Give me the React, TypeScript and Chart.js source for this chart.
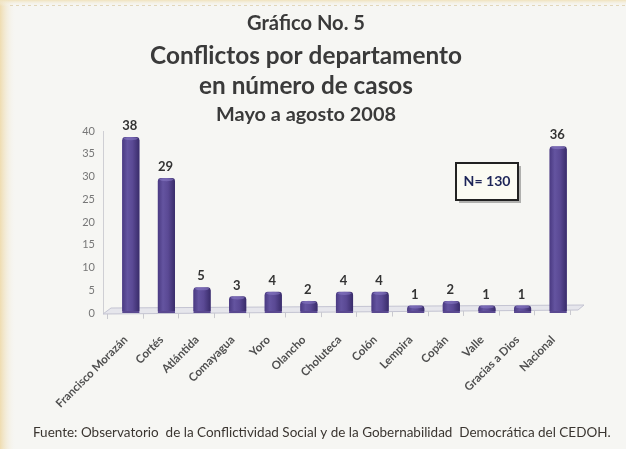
import React, { useEffect, useRef } from "react";
import { Chart, registerables } from "chart.js";

Chart.register(...registerables);

const categories = [
  "Francisco Morazán",
  "Cortés",
  "Atlántida",
  "Comayagua",
  "Yoro",
  "Olancho",
  "Choluteca",
  "Colón",
  "Lempira",
  "Copán",
  "Valle",
  "Gracias a Dios",
  "Nacional",
];
const cases = [38, 29, 5, 3, 4, 2, 4, 4, 1, 2, 1, 1, 36];
const yMin = 0;
const yMax = 40;
const yStep = 5;
const titleLines = [
  "Gráfico No. 5",
  "Conflictos por departamento",
  "en número de casos",
  "Mayo a agosto 2008",
];
const sampleNote = "N= 130";
const sourceNote =
  "Fuente: Observatorio  de la Conflictividad Social y de la Gobernabilidad  Democrática del CEDOH.";

const FONT = "Lato, 'Open Sans', sans-serif";

function drawFitted(
  ctx: CanvasRenderingContext2D,
  text: string,
  x: number,
  y: number,
  targetW: number,
  weight: string,
  color: string,
  align: CanvasTextAlign
) {
  ctx.font = `${weight} 20px ${FONT}`;
  const w = ctx.measureText(text).width;
  const size = (20 * targetW) / w;
  ctx.font = `${weight} ${size}px ${FONT}`;
  ctx.fillStyle = color;
  ctx.textAlign = align;
  ctx.textBaseline = "middle";
  ctx.fillText(text, x, y);
}

const decor = {
  id: "decor",
  beforeDraw(chart: any) {
    const { ctx, width, height } = chart;
    ctx.save();
    ctx.fillStyle = "#f6f6f3";
    ctx.fillRect(0, 0, width, height);
    const gl = ctx.createLinearGradient(0, 0, 16, 0);
    gl.addColorStop(0, "#efdcb0");
    gl.addColorStop(1, "rgba(246,246,243,0)");
    ctx.fillStyle = gl;
    ctx.fillRect(0, 0, 16, height);
    const gt = ctx.createLinearGradient(0, 0, 0, 6);
    gt.addColorStop(0, "#f0e2bc");
    gt.addColorStop(1, "rgba(246,246,243,0)");
    ctx.fillStyle = gt;
    ctx.fillRect(0, 0, width, 6);
    ctx.strokeStyle = "#e2d6b8";
    ctx.setLineDash([3, 3]);
    ctx.beginPath();
    ctx.moveTo(10, 5.5);
    ctx.lineTo(width, 5.5);
    ctx.stroke();
    ctx.restore();
  },
  beforeDatasetsDraw(chart: any) {
    const { ctx, chartArea } = chart;
    const { left, right, top, bottom } = chartArea;
    ctx.save();
    // vertical axis line
    ctx.strokeStyle = "#cfcfd4";
    ctx.lineWidth = 1;
    ctx.beginPath();
    ctx.moveTo(left - 9.5, top);
    ctx.lineTo(left - 9.5, bottom + 1);
    ctx.stroke();
    // floor
    ctx.beginPath();
    ctx.moveTo(left - 10, bottom + 1);
    ctx.lineTo(right + 2, bottom - 3);
    ctx.lineTo(right + 8, bottom - 8);
    ctx.lineTo(left - 2, bottom - 5);
    ctx.closePath();
    ctx.fillStyle = "#e6e6ec";
    ctx.fill();
    ctx.strokeStyle = "#c4c4d2";
    ctx.stroke();
    // tick marks under floor
    const n = categories.length;
    const step = (right - left) / n;
    ctx.strokeStyle = "#c9c9cf";
    for (let i = 0; i <= n; i++) {
      const px = left + i * step - 6;
      const t = i / n;
      const yb = bottom + 1 - 4 * t;
      ctx.beginPath();
      ctx.moveTo(Math.round(px) + 0.5, yb);
      ctx.lineTo(Math.round(px) + 0.5, yb + 5);
      ctx.stroke();
    }
    ctx.restore();
  },
  afterDatasetsDraw(chart: any) {
    const { ctx } = chart;
    const meta = chart.getDatasetMeta(0);
    ctx.save();
    meta.data.forEach((el: any, i: number) => {
      const { x, y, base, width } = el.getProps(["x", "y", "base", "width"], true);
      const l = x - width / 2;
      const g = ctx.createLinearGradient(l, 0, l + width, 0);
      g.addColorStop(0, "#4a3a82");
      g.addColorStop(0.3, "#6454a0");
      g.addColorStop(0.6, "#5a4994");
      g.addColorStop(1, "#392c6a");
      ctx.fillStyle = g;
      ctx.beginPath();
      ctx.moveTo(l, base - 2);
      ctx.lineTo(l, y);
      ctx.quadraticCurveTo(l, y - 3, l + 3, y - 3);
      ctx.lineTo(l + width - 3, y - 3);
      ctx.quadraticCurveTo(l + width, y - 3, l + width, y);
      ctx.lineTo(l + width, base - 2);
      ctx.closePath();
      ctx.fill();
      ctx.fillStyle = "rgba(140,125,200,0.55)";
      ctx.beginPath();
      ctx.ellipse(x, y - 1.5, width / 2 - 1.5, 1.6, 0, 0, Math.PI * 2);
      ctx.fill();
      // value label
      ctx.font = `bold 13px ${FONT}`;
      ctx.fillStyle = "#333333";
      ctx.textAlign = "center";
      ctx.textBaseline = "middle";
      ctx.fillText(String(cases[i]), x - 1, y - 14);
    });
    ctx.restore();
  },
  afterDraw(chart: any) {
    const { ctx } = chart;
    ctx.save();
    const cx = 306;
    drawFitted(ctx, titleLines[0], cx, 24, 118, "bold", "#3a3a3a", "center");
    drawFitted(ctx, titleLines[1], cx, 56, 312, "bold", "#3a3a3a", "center");
    drawFitted(ctx, titleLines[2], cx, 86, 214, "bold", "#3a3a3a", "center");
    drawFitted(ctx, titleLines[3], cx, 115, 180, "bold", "#3a3a3a", "center");

    // N box
    const bx = 456, by = 163, bw = 62, bh = 37;
    ctx.fillStyle = "rgba(90,90,90,0.45)";
    ctx.fillRect(bx + 3, by + 3, bw, bh);
    ctx.fillStyle = "#fbfbf3";
    ctx.fillRect(bx, by, bw, bh);
    ctx.strokeStyle = "#222222";
    ctx.lineWidth = 2;
    ctx.strokeRect(bx, by, bw, bh);
    drawFitted(ctx, sampleNote, bx + bw / 2, by + bh / 2, 47, "bold", "#1d2558", "center");

    drawFitted(ctx, sourceNote, 33, 433, 578, "normal", "#3a3530", "left");
    ctx.restore();
  },
};

export default function App() {
  const ref = useRef<HTMLCanvasElement | null>(null);
  useEffect(() => {
    if (!ref.current) return;
    const chart = new Chart(ref.current, {
      type: "bar",
      data: {
        labels: categories,
        datasets: [
          {
            data: cases,
            backgroundColor: "#5a4990",
            barPercentage: 0.48,
            categoryPercentage: 1,
          },
        ],
      },
      options: {
        responsive: false,
        animation: false,
        layout: { padding: { top: 131, right: 50, bottom: 0, left: 0 } },
        plugins: {
          legend: { display: false },
          title: { display: false },
          tooltip: { enabled: false },
        },
        scales: {
          x: {
            grid: { display: false, drawTicks: false },
            border: { display: false },
            ticks: {
              autoSkip: false,
              maxRotation: 45,
              minRotation: 45,
              padding: 20,
              labelOffset: -5,
              color: "#4f4f4f",
              font: { family: FONT, size: 11.5, weight: "bold" },
            },
            afterFit: (s: any) => {
              s.height = 136;
            },
          },
          y: {
            min: yMin,
            max: yMax,
            grid: { display: false, drawTicks: false },
            border: { display: false },
            ticks: {
              stepSize: yStep,
              padding: 18,
              color: "#777777",
              font: { family: FONT, size: 11 },
            },
            afterFit: (s: any) => {
              s.width = 113;
            },
          },
        },
      },
      plugins: [decor],
    });
    return () => chart.destroy();
  }, []);
  return (
    <div style={{ position: "absolute", left: 0, top: 0, width: 626, height: 449 }}>
      <canvas ref={ref} width={626} height={449} />
    </div>
  );
}
